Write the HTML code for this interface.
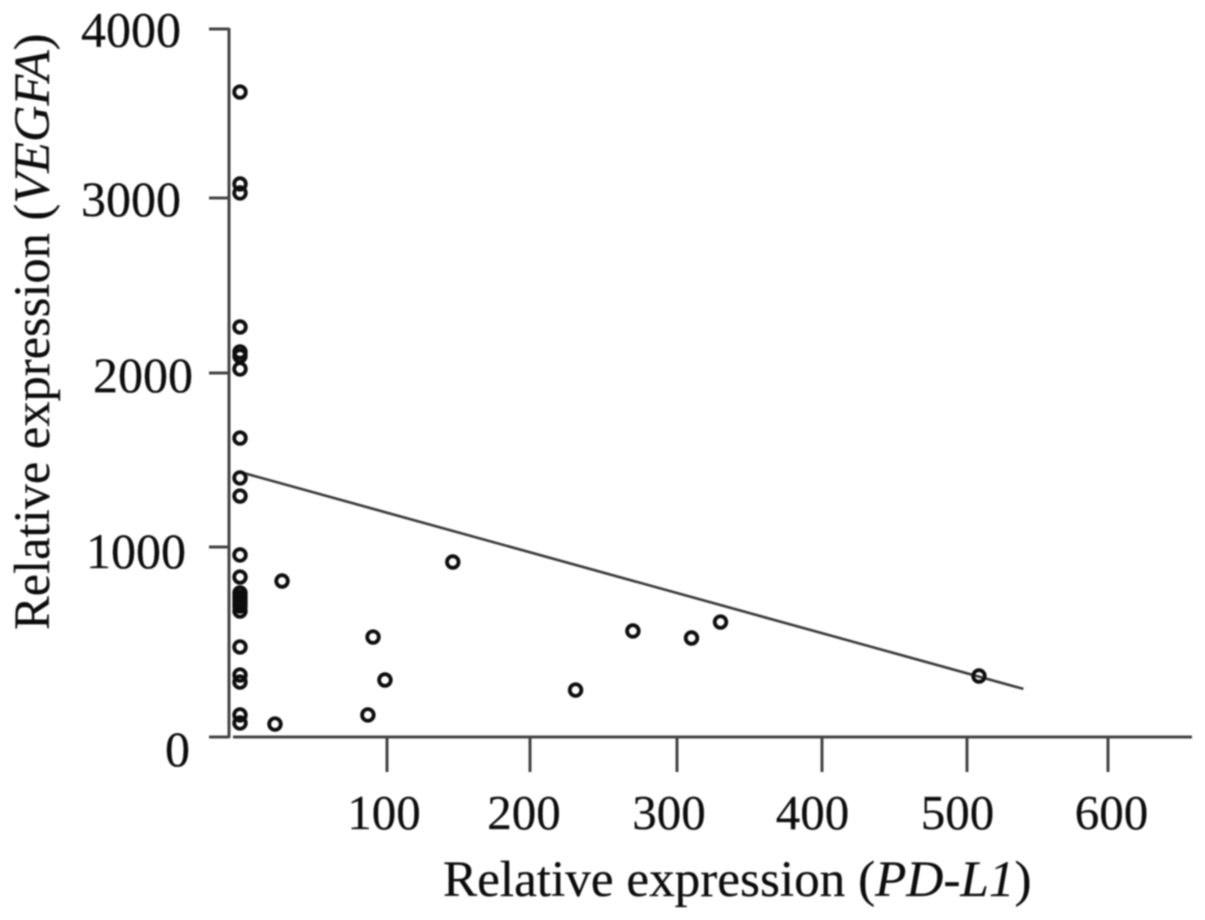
<!DOCTYPE html>
<html>
<head>
<meta charset="utf-8">
<style>
html,body{margin:0;padding:0;background:#fff;width:1205px;height:920px;overflow:hidden}
svg{display:block}
text{font-family:"Liberation Serif",serif;fill:#0d0d0d;stroke:#0d0d0d;stroke-width:0.2px}
</style>
</head>
<body>
<svg id="chart" width="1205" height="920" viewBox="0 0 1205 920" xmlns="http://www.w3.org/2000/svg">
<defs><filter id="soft" x="-5%" y="-5%" width="110%" height="110%"><feGaussianBlur stdDeviation="0.7"/></filter></defs>
<g id="root" filter="url(#soft)"></g>
</svg>
<script>
const xTicks = [100, 200, 300, 400, 500, 600];
const yTicks = [0, 1000, 2000, 3000, 4000];
const pdL1 = [0,0,0,0,0,0,0,0,0,0,0,0,0,0,0,0,0,0,0,0,0,0,0,28.6,23.8,87,90.5,98.6,146,231,270,310,330,508.5];
const vegfa = [3627,3083,3030,2263,2120,2097,2023,1626,1397,1293,958,842,758,737,721,705,689,663,474,326,289,116,74,821,68,116,526,300,921,247,558,521,605,321];
const fitX = [0, 540];
const fitY = [1431, 253];

function piecewise(domain, range) {
  return function (v) {
    let i = 0;
    while (i < domain.length - 2 && v > domain[i + 1]) i++;
    return range[i] + (v - domain[i]) / (domain[i + 1] - domain[i]) * (range[i + 1] - range[i]);
  };
}
const xScale = piecewise([0,100,200,300,400,500,600], [240,387,530,677,822,967,1108]);
const yScale = piecewise([0,1000,2000,3000,4000], [737,547,373,198,29]);

const root = document.getElementById('root');
const NS = 'http://www.w3.org/2000/svg';
function make(tag, attrs, text) {
  const el = document.createElementNS(NS, tag);
  for (const k in attrs) el.setAttribute(k, attrs[k]);
  if (text !== undefined) el.textContent = text;
  root.appendChild(el);
  return el;
}
const axisStyle = {stroke:'#444','stroke-width':3,fill:'none'};

const yAxis = make('line', Object.assign({x1:229,x2:229,y1:yScale(4000)-1,y2:yScale(0)+1}, axisStyle));


const xAxis = make('line', Object.assign({x1:233,x2:1192,y1:yScale(0),y2:yScale(0)}, axisStyle));



const yLabelBaselineShift = {0:29, 1000:21, 2000:19, 3000:18, 4000:17.5};
const yLabelRight = {0:190, 1000:186, 2000:193, 3000:181, 4000:181};
yTicks.forEach(function (t) {
  const y = yScale(t);
  const tick = make('line', Object.assign({x1:209,x2:229,y1:y,y2:y}, axisStyle));
  
  
  const label = make('text', {x: yLabelRight[t], y: y + yLabelBaselineShift[t], 'text-anchor':'end', 'font-size':50}, String(t));
  
  
});
const xLabelShift = {100:-3, 200:-6, 300:-8, 400:-9.5, 500:-9.5, 600:3.5};
xTicks.forEach(function (t) {
  const x = xScale(t);
  const tick = make('line', Object.assign({x1:x,x2:x,y1:yScale(0),y2:772}, axisStyle));
  
  
  const label = make('text', {x: x + xLabelShift[t], y: 829, 'text-anchor':'middle', 'font-size':49}, String(t));
  
  
});

const fit = make('line', {x1:xScale(fitX[0]),y1:yScale(fitY[0]),x2:xScale(fitX[1]),y2:yScale(fitY[1]),stroke:'#3a3a3a','stroke-width':2.6});



pdL1.forEach(function (v, i) {
  const c = make('circle', {cx:xScale(v),cy:yScale(vegfa[i]),r:5.8,fill:'none',stroke:'#111','stroke-width':3.8});
  
  
});

const xTitle = make('text', {x:443,y:896,'font-size':51.2});


xTitle.innerHTML = 'Relative expression (<tspan font-style="italic">PD-L1</tspan>)';

const yTitle = make('text', {x:0,y:0,'font-size':50.5,transform:'translate(49,630) rotate(-90)'});


yTitle.innerHTML = 'Relative expression (<tspan font-style="italic">VEGFA</tspan>)';
</script>
</body>
</html>
